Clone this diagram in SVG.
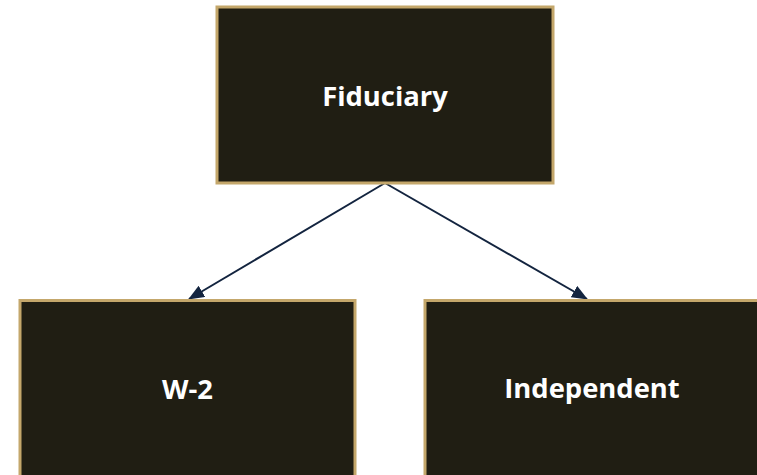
<svg xmlns="http://www.w3.org/2000/svg" width="757" height="475" viewBox="0 0 757 475">
<style>
.box{fill:#201e13;stroke:#c4a76b;stroke-width:3}
.lbl{font-family:"Open Sans","Noto Sans","DejaVu Sans",sans-serif;font-weight:bold;font-size:27.4px;fill:#ffffff;text-anchor:middle}
.conn{stroke:#13243f;stroke-width:2;fill:none}
</style>
<defs>
<marker id="ah2" viewBox="0 0 16 13" refX="15" refY="6.5" markerWidth="16" markerHeight="13" orient="auto" markerUnits="userSpaceOnUse">
<path d="M0,0 L16,6.5 L0,13 Z" fill="#13243f"/>
</marker>
</defs>
<g id="connectors">
<line class="conn" x1="385" y1="183" x2="189" y2="299" marker-end="url(#ah2)"/>
<line class="conn" x1="385" y1="183" x2="587" y2="299" marker-end="url(#ah2)"/>
</g>
<g id="fiduciary">
<rect class="box" x="217" y="7" width="336" height="176"/>
<text class="lbl" x="385" y="106">Fiduciary</text>
</g>
<g id="w2">
<rect class="box" x="20" y="300.5" width="335" height="200"/>
<text class="lbl" x="187.5" y="399">W-2</text>
</g>
<g id="independent">
<rect class="box" x="425" y="300.5" width="360" height="200"/>
<text class="lbl" x="592" y="398">Independent</text>
</g>
</svg>
